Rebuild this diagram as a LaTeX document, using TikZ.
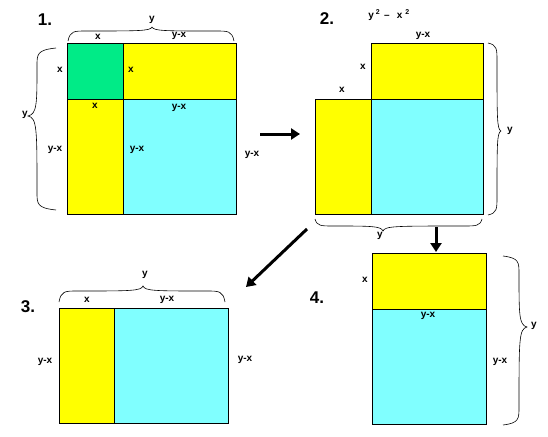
\documentclass[tikz,border=0pt]{standalone}
\usepackage{fontspec}
\setmainfont{Liberation Sans}
\usetikzlibrary{arrows.meta}
\definecolor{sqgreen}{RGB}{0,235,135}
\definecolor{sqyellow}{RGB}{255,255,0}
\definecolor{sqcyan}{RGB}{128,255,255}
% horizontal brace: x1, x2, xtip, y0, body offset, tip offset
\newcommand{\HBrace}[6]{%
  \draw[brc] (#1,#4) .. controls ({#1+2},{#4+#5}) and ({#1+6},{#4+#5}) .. ({#1+18},{#4+#5})
    .. controls ({#3-12},{#4+#5}) and ({#3-2},{#4+#5}) .. (#3,{#4+#6})
    .. controls ({#3+2},{#4+#5}) and ({#3+12},{#4+#5}) .. ({#2-18},{#4+#5})
    .. controls ({#2-6},{#4+#5}) and ({#2-2},{#4+#5}) .. (#2,#4);}
% vertical brace: y1, y2, ytip, x0, body offset, tip offset
\newcommand{\VBrace}[6]{%
  \draw[brc] (#4,#1) .. controls ({#4+#5},{#1+2}) and ({#4+#5},{#1+6}) .. ({#4+#5},{#1+18})
    .. controls ({#4+#5},{#3-12}) and ({#4+#5},{#3-2}) .. ({#4+#6},#3)
    .. controls ({#4+#5},{#3+2}) and ({#4+#5},{#3+12}) .. ({#4+#5},{#2-18})
    .. controls ({#4+#5},{#2-6}) and ({#4+#5},{#2-2}) .. (#4,#2);}
\begin{document}
\begin{tikzpicture}[x=1pt,y=-1pt,
  lbl/.style={font=\fontsize{10}{11}\selectfont\bfseries,inner sep=0pt},
  num/.style={font=\fontsize{17}{18}\selectfont\bfseries,inner sep=0pt},
  box/.style={draw=black,line width=0.8pt},
  brc/.style={draw=black,line width=0.6pt},
  bigarrow/.style={draw=black,line width=3pt,-{Triangle[length=9pt,width=11pt]}}]
\useasboundingbox (0,0) rectangle (548,436);
% Panel 1
\filldraw[box,fill=sqgreen] (67,43) rectangle (123,99);
\filldraw[box,fill=sqyellow] (123,43) rectangle (236,99);
\filldraw[box,fill=sqyellow] (67,99) rectangle (123,214);
\filldraw[box,fill=sqcyan] (123,99) rectangle (236,214);
\HBrace{68}{234}{152}{41}{-10}{-14}
\VBrace{48}{210}{116}{56}{-19}{-28}
\node[num] (n1) at (45,20) {1.};
\node[lbl] (a1) at (152,20) {y};
\node[lbl] (a2) at (98,37) {x};
\node[lbl] (a3) at (179,36) {y-x};
\node[lbl] (a4) at (60,70) {x};
\node[lbl] (a5) at (131,70) {x};
\node[lbl] (a6) at (95,106) {x};
\node[lbl] (a7) at (179,108) {y-x};
\node[lbl] (a8) at (25,115) {y};
\node[lbl] (a9) at (55,150) {y-x};
\node[lbl] (a10) at (137,150) {y-x};
\node[lbl] (a11) at (252,155) {y-x};
% Panel 2
\filldraw[box,fill=sqyellow] (371,43) rectangle (483,99);
\filldraw[box,fill=sqyellow] (315,99) rectangle (371,214);
\filldraw[box,fill=sqcyan] (371,99) rectangle (483,214);
\VBrace{43}{215}{131}{488}{9}{13}
\HBrace{315}{482}{383}{219}{7}{12}
\node[num] (n2) at (327,19) {2.};
\node[lbl] (b1) at (389,15) {y\kern2pt\textsuperscript{2}\kern4pt–\kern7pt x\kern3pt\textsuperscript{2}};
\node[lbl] (b2) at (423,36) {y-x};
\node[lbl] (b3) at (363,67) {x};
\node[lbl] (b4) at (342,90) {x};
\node[lbl] (b5) at (510,131) {y};
\node[lbl] (b6) at (380,236) {y};
% Panel 3
\filldraw[box,fill=sqyellow] (59,308) rectangle (114,423);
\filldraw[box,fill=sqcyan] (114,308) rectangle (228,423);
\HBrace{59}{225}{143}{302}{-11}{-16}
\node[num] (n3) at (28,307) {3.};
\node[lbl] (c1) at (145,275) {y};
\node[lbl] (c2) at (87,300) {x};
\node[lbl] (c3) at (167,300) {y-x};
\node[lbl] (c4) at (45,362) {y-x};
\node[lbl] (c5) at (245,360) {y-x};
% Panel 4
\filldraw[box,fill=sqyellow] (372,253) rectangle (486,309);
\filldraw[box,fill=sqcyan] (372,309) rectangle (486,424);
\VBrace{256}{425}{327}{503}{16}{24}
\node[num] (n4) at (317,298) {4.};
\node[lbl] (d1) at (365,280) {x};
\node[lbl] (d2) at (428,316) {y-x};
\node[lbl] (d3) at (500,362) {y-x};
\node[lbl] (d4) at (534,326) {y};
% Arrows
\coordinate (p1s) at (260,134);
\coordinate (p1e) at (300,134);
\coordinate (p2s) at (436,227);
\coordinate (p2e) at (436,252);
\coordinate (p3s) at (307,229);
\coordinate (p3e) at (246,287);
\draw[bigarrow] (p1s) -- (p1e);
\draw[bigarrow] (p2s) -- (p2e);
\draw[bigarrow] (p3s) -- (p3e);
\end{tikzpicture}
\end{document}
